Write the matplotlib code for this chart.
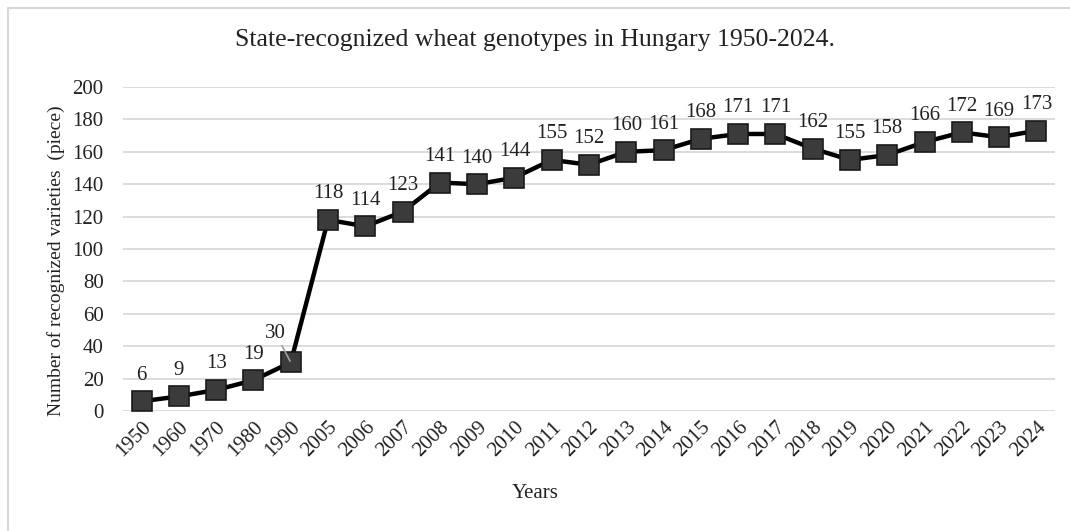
import matplotlib
matplotlib.use("Agg")
import matplotlib.pyplot as plt
from matplotlib.lines import Line2D

years = ["1950", "1960", "1970", "1980", "1990", "2005", "2006", "2007", "2008", "2009",
         "2010", "2011", "2012", "2013", "2014", "2015", "2016", "2017", "2018", "2019",
         "2020", "2021", "2022", "2023", "2024"]
values = [6, 9, 13, 19, 30, 118, 114, 123, 141, 140, 144, 155, 152, 160, 161, 168,
          171, 171, 162, 155, 158, 166, 172, 169, 173]
yticks = [0, 20, 40, 60, 80, 100, 120, 140, 160, 180, 200]

plt.rcParams['font.family'] = ['Liberation Serif', 'DejaVu Serif']

fig = plt.figure(figsize=(10.7, 5.31), dpi=100)
ax = fig.add_axes([123/1070, 1-411/531, (1055-123)/1070, (411-87)/531])

x = list(range(len(years)))
ax.plot(x, values, color='black', lw=3.2, marker='s', markersize=14,
        markerfacecolor='#3b3b3b', markeredgecolor='#1a1a1a', markeredgewidth=1.2, zorder=3)

fs = 15
for i, v in enumerate(values):
    if years[i] == "1990":
        ax.annotate(str(v), (i, v), xytext=(-11, 14), textcoords='offset points',
                    ha='center', va='bottom', fontsize=fs, color='#222222',
                    arrowprops=dict(arrowstyle='-', color='#a0a0a0', lw=1.2,
                                    shrinkA=0, shrinkB=1))
    else:
        ax.annotate(str(v), (i, v), xytext=(0, 12), textcoords='offset points',
                    ha='center', va='bottom', fontsize=fs, color='#222222')

ax.set_xlim(-0.5, len(years) - 0.5)
ax.set_ylim(0, 200)
ax.set_yticks(yticks)
ax.set_xticks(x)
ax.set_xticklabels(years, rotation=45, ha='right', rotation_mode='anchor')
ax.tick_params(axis='both', length=0, labelsize=fs, colors='#222222')
ax.tick_params(axis='x', pad=5)
ax.tick_params(axis='y', pad=14)
ax.grid(axis='y', color='#d9d9d9', lw=1.3)
ax.set_axisbelow(True)
for s in ax.spines.values():
    s.set_visible(False)

ax.set_ylabel("Number of recognized varieties  (piece)", fontsize=14, color='#222222')
ax.yaxis.set_label_coords(-0.062, 0.465)
fig.text(0.5, 1-493/531, "Years", ha='center', va='center', fontsize=15, color='#222222')
fig.text(0.5, 1-40/531, "State-recognized wheat genotypes in Hungary 1950-2024.",
         ha='center', va='center', fontsize=18.5, color='#222222')

# outer frame (left and top edges visible)
fig.add_artist(Line2D([8/1070, 8/1070], [0, 1-8/531], transform=fig.transFigure,
                      color='#d8d8d8', lw=1.5))
fig.add_artist(Line2D([8/1070, 1], [1-8/531, 1-8/531], transform=fig.transFigure,
                      color='#d8d8d8', lw=1.5))

fig.savefig("out.png", dpi=100, facecolor='white')
